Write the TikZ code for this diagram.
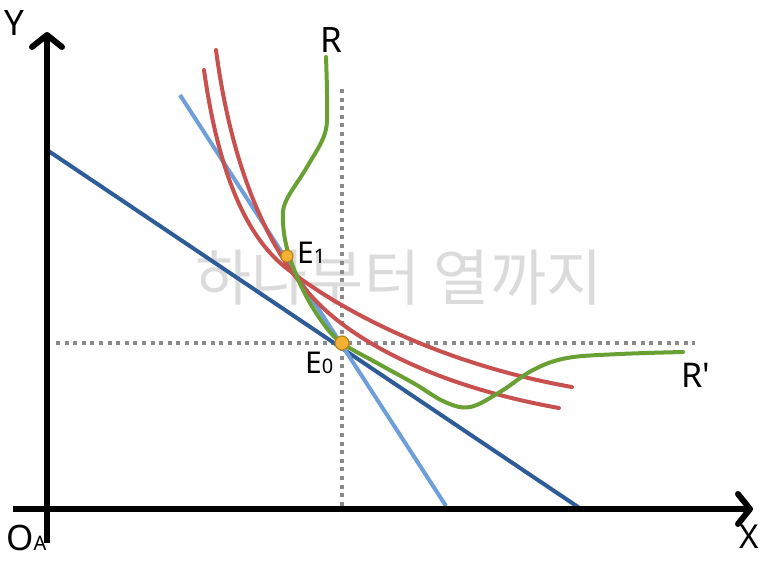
\documentclass[tikz,border=0pt]{standalone}
\usepackage{fontspec}
\setmainfont{Noto Sans}
\newfontfamily\kfont{Noto Sans CJK KR}
\usetikzlibrary{arrows.meta}

\definecolor{lineblue}{HTML}{2E5C99}
\definecolor{skyblue}{HTML}{6E9FDA}
\definecolor{curvered}{HTML}{C8504E}
\definecolor{curvegreen}{HTML}{68A033}
\definecolor{dotgray}{HTML}{8A8A8A}
\definecolor{eqfill}{HTML}{F4B234}
\definecolor{eqdraw}{HTML}{B8841C}

\begin{document}
\begin{tikzpicture}[
  x=1pt, y=-1pt,
  axis/.style={line width=6pt, -{Straight Barb[length=12pt, width=30pt, round]}},
  guide/.style={dotgray, line width=4pt, dash pattern=on 4pt off 4.6pt},
  budget/.style={line width=4pt, #1},
  indiff/.style={curvered, line width=4pt, line cap=round},
  offer/.style={curvegreen, line width=4pt, line cap=round},
  eqpt/.style={fill=eqfill, draw=eqdraw, line width=1.2pt},
  lbl/.style={inner sep=0pt, anchor=base west, font=\fontsize{#1}{#1}\selectfont}
]
\useasboundingbox (0,0) rectangle (773,563);

% ---- WATERMARK ----
\node[inner sep=0pt, text=gray!28, font=\kfont\fontsize{61}{61}\selectfont] (wm) at (399,278) {하나부터 열까지};

% ---- GUIDES ----
\coordinate (E0) at (342,343);
\coordinate (E1) at (287,256);
\draw[guide] (342,89) -- (342,507);
\draw[guide] (56,343) -- (695,343);

% ---- BUDGET LINES ----
\draw[budget=lineblue] (47,150) -- (581,509);
\draw[budget=skyblue] (180,95) -- (446,506);

% ---- INDIFFERENCE CURVES ----
\draw[indiff] (204,70) .. controls (218,170) and (245,235) .. (285,267)
  .. controls (330,303) and (430,362) .. (572,387);
\draw[indiff] (216,50) .. controls (232,170) and (268,250) .. (315,300)
  .. controls (352,339) and (430,385) .. (559,408);

% ---- OFFER CURVE ----
\draw[offer] plot[smooth, tension=0.6] coordinates {(326,57) (327,100) (325,133) (307,167) (286,201) (283,222) (288,252) (303,290) (323,323) (342,343) (377,363) (415,384) (445,402) (470,407) (500,392) (533,370) (567,358) (620,354) (683,352)};

% ---- AXES ----
\draw[axis] (47,543) -- (47,32);
\draw[axis] (13,509) -- (753,509);

% ---- EQUILIBRIA ----
\draw[eqpt] (E1) circle[radius=6pt];
\draw[eqpt] (E0) circle[radius=7pt];

% ---- LABELS ----
\node[lbl=35] (ylab) at (4,35) {Y};
\node[lbl=33] (xlab) at (739,548) {X};
\node[lbl=35] (olab) at (6,550) {O{\fontsize{20}{20}\selectfont A}};
\node[lbl=35] (rlab) at (320,52) {R};
\node[lbl=34] (rplab) at (681,387) {R\textquotesingle};
\node[lbl=30] (e1lab) at (297,263) {E{\fontsize{20}{20}\selectfont 1}};
\node[lbl=30] (e0lab) at (305,373) {E{\fontsize{20}{20}\selectfont 0}};
\end{tikzpicture}
\end{document}
